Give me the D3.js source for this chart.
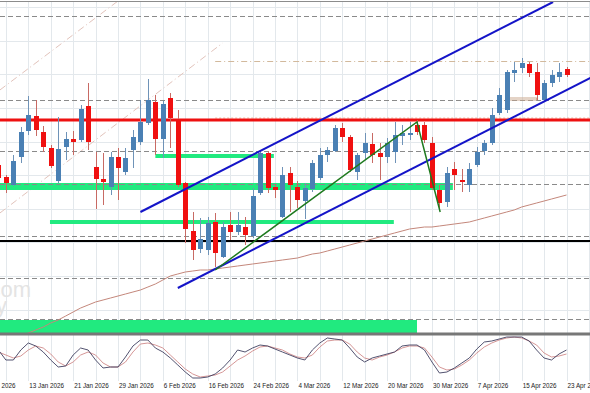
<!DOCTYPE html>
<html>
<head>
<meta charset="utf-8">
<script src="https://cdn.jsdelivr.net/npm/d3@7"></script>
<style>
html, body { margin: 0; padding: 0; background: #fff; }
svg { display: block; }
.axis text { font-family: "Liberation Sans", Arial, sans-serif; font-size: 6.3px; fill: #222; }
</style>
</head>
<body>
<div id="chart"></div>
<script>
// daily candles, first bar = 7 Jan 2026 (index -4), last bar = 23 Apr 2026 (index 72)
var firstIndex = -4;

var opens = [1.1635, 1.1623, 1.1615, 1.1643, 1.1669, 1.1684, 1.1668, 1.1652, 1.1619, 1.1653,
    1.1661, 1.1660, 1.1694, 1.1633, 1.1621, 1.1613, 1.1643, 1.1628, 1.1650, 1.1658,
    1.1677, 1.1698, 1.1661, 1.1702, 1.1681, 1.1617, 1.1569, 1.1551, 1.1550, 1.1578,
    1.1543, 1.1575, 1.1568, 1.1573, 1.1564, 1.1607, 1.1647, 1.1613, 1.1583, 1.1627,
    1.1613, 1.1599, 1.1611, 1.1622, 1.1645, 1.1649, 1.1672, 1.1663, 1.1628, 1.1647,
    1.1656, 1.1647, 1.1643, 1.1648, 1.1664, 1.1665, 1.1675, 1.1675, 1.1657, 1.1610,
    1.1598, 1.1631, 1.1620, 1.1615, 1.1635, 1.1649, 1.1657, 1.1687, 1.1690, 1.1727,
    1.1732, 1.1736, 1.1728, 1.1700, 1.1717, 1.1723, 1.1731];

var highs = [1.1640, 1.1625, 1.1645, 1.1673, 1.1704, 1.1700, 1.1674, 1.1655, 1.1683, 1.1668,
    1.1669, 1.1695, 1.1717, 1.1648, 1.1647, 1.1648, 1.1652, 1.1652, 1.1670, 1.1700,
    1.1721, 1.1705, 1.1699, 1.1707, 1.1690, 1.1618, 1.1588, 1.1582, 1.1583, 1.1587,
    1.1578, 1.1588, 1.1588, 1.1583, 1.1612, 1.1649, 1.1649, 1.1616, 1.1633, 1.1633,
    1.1619, 1.1617, 1.1640, 1.1652, 1.1653, 1.1675, 1.1677, 1.1665, 1.1647, 1.1667,
    1.1667, 1.1657, 1.1662, 1.1678, 1.1675, 1.1678, 1.1680, 1.1678, 1.1663, 1.1615,
    1.1633, 1.1638, 1.1631, 1.1637, 1.1653, 1.1660, 1.1692, 1.1712, 1.1730, 1.1738,
    1.1742, 1.1738, 1.1737, 1.1720, 1.1730, 1.1737, 1.1733];

var lows = [1.1620, 1.1607, 1.1614, 1.1637, 1.1665, 1.1664, 1.1648, 1.1632, 1.1617, 1.1640,
    1.1645, 1.1658, 1.1650, 1.1591, 1.1595, 1.1605, 1.1600, 1.1625, 1.1632, 1.1655,
    1.1675, 1.1645, 1.1642, 1.1652, 1.1613, 1.1557, 1.1540, 1.1547, 1.1545, 1.1533,
    1.1542, 1.1560, 1.1565, 1.1555, 1.1562, 1.1605, 1.1607, 1.1602, 1.1582, 1.1588,
    1.1592, 1.1581, 1.1608, 1.1620, 1.1638, 1.1648, 1.1658, 1.1628, 1.1620, 1.1640,
    1.1637, 1.1620, 1.1637, 1.1637, 1.1655, 1.1660, 1.1665, 1.1657, 1.1610, 1.1592,
    1.1593, 1.1610, 1.1608, 1.1608, 1.1633, 1.1645, 1.1655, 1.1685, 1.1687, 1.1718,
    1.1727, 1.1723, 1.1700, 1.1698, 1.1713, 1.1718, 1.1723];

var closes = [1.1622, 1.1617, 1.1639, 1.1668, 1.1685, 1.1670, 1.1653, 1.1634, 1.1651, 1.1661,
    1.1658, 1.1691, 1.1658, 1.1621, 1.1618, 1.1643, 1.1632, 1.1642, 1.1663, 1.1678,
    1.1700, 1.1661, 1.1696, 1.1682, 1.1615, 1.1571, 1.1550, 1.1561, 1.1577, 1.1547,
    1.1573, 1.1568, 1.1575, 1.1565, 1.1604, 1.1647, 1.1612, 1.1610, 1.1625, 1.1615,
    1.1600, 1.1612, 1.1637, 1.1645, 1.1650, 1.1672, 1.1663, 1.1630, 1.1645, 1.1657,
    1.1645, 1.1643, 1.1657, 1.1665, 1.1667, 1.1667, 1.1668, 1.1660, 1.1612, 1.1597,
    1.1627, 1.1625, 1.1618, 1.1631, 1.1648, 1.1657, 1.1685, 1.1705, 1.1728, 1.1730,
    1.1737, 1.1727, 1.1705, 1.1717, 1.1725, 1.1728, 1.1725];

// slow moving average
var movingAvg = [1.1455, 1.1458, 1.1461, 1.1464,
    1.1467, 1.1470, 1.1473, 1.1477, 1.1480, 1.1484, 1.1488, 1.1492, 1.1495, 1.1498,
    1.1500, 1.1502, 1.1504, 1.1506, 1.1508, 1.1510, 1.1513, 1.1516, 1.1520, 1.1524,
    1.1526, 1.1528, 1.1529, 1.1530, 1.1530, 1.1531, 1.1532, 1.1533, 1.1534, 1.1535,
    1.1536, 1.1537, 1.1538, 1.1539, 1.1540, 1.1541, 1.1542, 1.1544, 1.1546, 1.1547,
    1.1549, 1.1551, 1.1553, 1.1555, 1.1557, 1.1559, 1.1561, 1.1563, 1.1565, 1.1567,
    1.1569, 1.1571, 1.1572, 1.1573, 1.1573, 1.1574, 1.1575, 1.1576, 1.1577, 1.1578,
    1.1580, 1.1582, 1.1584, 1.1586, 1.1588, 1.1590, 1.1593, 1.1595, 1.1597, 1.1599,
    1.1601, 1.1603, 1.1605];

// stochastic %K and %D
var stochK = [60, 40, 40, 60, 74, 68, 56, 40, 26, 28, 50, 64, 60, 40, 24, 26, 26, 46, 68, 80,
    80, 64, 56, 44, 30, 16, 4, 4, 6, 12, 24, 40, 60, 56, 64, 70, 68, 62, 56, 50,
    44, 40, 60, 74, 84, 82, 80, 64, 46, 36, 44, 48, 52, 56, 68, 70, 70, 60, 36, 14,
    16, 24, 34, 44, 62, 76, 78, 82, 86, 86, 86, 78, 60, 44, 40, 52, 60];
var stochD = [56, 50, 44, 48, 60, 68, 64, 52, 36, 28, 36, 50, 56, 50, 34, 26, 26, 36, 56, 72,
    74, 70, 64, 50, 36, 22, 12, 6, 8, 10, 16, 28, 40, 48, 58, 66, 68, 64, 60, 52,
    46, 44, 50, 66, 78, 80, 80, 72, 56, 44, 40, 46, 50, 56, 64, 68, 68, 64, 46, 26,
    20, 22, 30, 40, 54, 66, 74, 80, 84, 86, 84, 78, 70, 54, 46, 48, 52];

var xTickIndex = [-6, 0, 6, 12, 18, 24, 30, 36, 42, 48, 54, 60, 66, 72];
var xTickLabels = ["5 Jan 2026", "13 Jan 2026", "21 Jan 2026", "29 Jan 2026", "6 Feb 2026",
    "16 Feb 2026", "24 Feb 2026", "4 Mar 2026", "12 Mar 2026", "20 Mar 2026",
    "30 Mar 2026", "7 Apr 2026", "15 Apr 2026", "23 Apr 2026"];

var gridPrices = [1.1793, 1.1759, 1.1726, 1.1692, 1.1658, 1.1625, 1.1591, 1.1558, 1.1524, 1.1490];

// drawn objects: [index, price] points
var dashedLevels = [1.1784, 1.1700, 1.1649, 1.1616, 1.1564, 1.1522, 1.1481];
var redLevel = 1.1680;
var blackLevel = 1.1559;
var dashDotLevel = [25.0, 1.1739];
var dottedLevel = [25.0, 1.1682];
var zones = [[17.0, 32.85, 1.1646, 1.1642], [-4.5, 56.8, 1.1617, 1.1610],
    [2.9, 48.9, 1.1580, 1.1576], [-4.5, 52.0, 1.1480, 1.1467]];
var tanBox = [64.2, 68.0, 1.1702, 1.1700];
var blueChannel = [[[15.0, 1.1588], [70.2, 1.1798]], [[20.0, 1.1512], [75.2, 1.1722]]];
var greenTrend = [[25.0, 1.1530], [52.0, 1.1678], [55.1, 1.1588]];
var diagChannel = [[[-3.8, 1.1710], [12.0, 1.1799]], [[-3.8, 1.1587], [26.0, 1.1757]]];

var width = 590, height = 393;
var mainBottom = 333;

var bars = opens.map(function(o, i) {
    return { i: i + firstIndex, o: o, h: highs[i], l: lows[i], c: closes[i] };
});

var x = d3.scaleLinear().domain([0, 72]).range([28.3, 566.5]);
var y = d3.scaleLinear().domain([1.1800, 1.1467]).range([0, mainBottom]);
var ys = d3.scaleLinear().domain([0, 100]).range([380, 330]);

var svg = d3.select("#chart").append("svg")
    .attr("width", width)
    .attr("height", height);

svg.append("rect").attr("width", width).attr("height", height).attr("fill", "#fff");

var defs = svg.append("defs");
defs.append("clipPath").attr("id", "mainClip")
    .append("rect").attr("x", 0).attr("y", 2).attr("width", width).attr("height", mainBottom - 2);
defs.append("clipPath").attr("id", "stochClip")
    .append("rect").attr("x", 0).attr("y", 335).attr("width", width).attr("height", 46);

// grid
var grid = svg.append("g").attr("shape-rendering", "crispEdges");
grid.selectAll("line.v")
    .data(d3.range(-6, 78, 3))
    .enter().append("line")
    .attr("x1", function(d) { return Math.round(x(d)) + 0.5; })
    .attr("x2", function(d) { return Math.round(x(d)) + 0.5; })
    .attr("y1", 2).attr("y2", 381)
    .attr("stroke", "#e3e8ec");
grid.selectAll("line.h")
    .data(gridPrices)
    .enter().append("line")
    .attr("x1", 0).attr("x2", width)
    .attr("y1", function(d) { return Math.round(y(d)) + 0.5; })
    .attr("y2", function(d) { return Math.round(y(d)) + 0.5; })
    .attr("stroke", "#e3e8ec");

var main = svg.append("g").attr("clip-path", "url(#mainClip)");

// diagonal dash-dot channel
main.selectAll("line.diag")
    .data(diagChannel)
    .enter().append("line")
    .attr("x1", function(d) { return x(d[0][0]); })
    .attr("y1", function(d) { return y(d[0][1]); })
    .attr("x2", function(d) { return x(d[1][0]); })
    .attr("y2", function(d) { return y(d[1][1]); })
    .attr("stroke", "#e2c3bb")
    .attr("stroke-width", 1)
    .attr("stroke-dasharray", "7,3,1,3");

// zones
main.selectAll("rect.zone")
    .data(zones)
    .enter().append("rect")
    .attr("x", function(d) { return x(d[0]); })
    .attr("width", function(d) { return x(d[1]) - x(d[0]); })
    .attr("y", function(d) { return y(d[2]); })
    .attr("height", function(d) { return y(d[3]) - y(d[2]); })
    .attr("fill", "#21ea7f");

// levels
var levels = main.append("g");
levels.selectAll("line.dash")
    .data(dashedLevels)
    .enter().append("line")
    .attr("x1", 0).attr("x2", width)
    .attr("y1", function(d) { return Math.round(y(d)) + 0.5; })
    .attr("y2", function(d) { return Math.round(y(d)) + 0.5; })
    .attr("stroke", "#8a8a8a")
    .attr("stroke-dasharray", "5,3");

levels.append("line")
    .attr("x1", x(dashDotLevel[0])).attr("x2", width)
    .attr("y1", Math.round(y(dashDotLevel[1])) + 0.5)
    .attr("y2", Math.round(y(dashDotLevel[1])) + 0.5)
    .attr("stroke", "#d2b99c")
    .attr("stroke-dasharray", "6,3,1,3");

levels.append("line")
    .attr("x1", x(dottedLevel[0])).attr("x2", width)
    .attr("y1", y(dottedLevel[1])).attr("y2", y(dottedLevel[1]))
    .attr("stroke", "#f4b9a0")
    .attr("stroke-dasharray", "2,2");

levels.append("line")
    .attr("x1", 0).attr("x2", width)
    .attr("y1", y(redLevel)).attr("y2", y(redLevel))
    .attr("stroke", "#ee1010")
    .attr("stroke-width", 3);

levels.append("line")
    .attr("x1", 0).attr("x2", width)
    .attr("y1", y(blackLevel)).attr("y2", y(blackLevel))
    .attr("stroke", "#000")
    .attr("stroke-width", 2);

levels.append("rect")
    .attr("x", x(tanBox[0]))
    .attr("width", x(tanBox[1]) - x(tanBox[0]))
    .attr("y", y(tanBox[2]))
    .attr("height", y(tanBox[3]) - y(tanBox[2]))
    .attr("fill", "none")
    .attr("stroke", "#c9a88e")
    .attr("stroke-width", 1);

// watermark, cut off at the left edge
var wm = main.append("text")
    .attr("font-family", "Liberation Sans, Arial, sans-serif")
    .attr("font-size", 22)
    .attr("fill", "#e4e4e4");
wm.append("tspan").attr("x", 31).attr("y", 297).attr("text-anchor", "end").text("com");
wm.append("tspan").attr("x", 7).attr("y", 313).attr("text-anchor", "end").text("y");

// moving average
var maLine = d3.line()
    .x(function(d, i) { return x(i + firstIndex); })
    .y(function(d) { return y(d); });
main.append("path")
    .datum(movingAvg)
    .attr("d", maLine)
    .attr("fill", "none")
    .attr("stroke", "#c4877b")
    .attr("stroke-width", 1);

// candles
var candle = main.selectAll("g.candle")
    .data(bars)
    .enter().append("g");
candle.append("line")
    .attr("x1", function(d) { return Math.round(x(d.i)) + 0.5; })
    .attr("x2", function(d) { return Math.round(x(d.i)) + 0.5; })
    .attr("y1", function(d) { return y(d.h); })
    .attr("y2", function(d) { return y(d.l); })
    .attr("stroke", function(d) { return d.c >= d.o ? "#6f93b8" : "#c86a64"; })
    .attr("stroke-width", 1);
candle.append("rect")
    .attr("x", function(d) { return Math.round(x(d.i)) - 2; })
    .attr("width", 5)
    .attr("y", function(d) { return y(Math.max(d.o, d.c)); })
    .attr("height", function(d) { return Math.max(1.5, Math.abs(y(d.o) - y(d.c))); })
    .attr("fill", function(d) { return d.c >= d.o ? "#4a80b4" : "#f01010"; });

// trend lines
main.selectAll("line.blue")
    .data(blueChannel)
    .enter().append("line")
    .attr("x1", function(d) { return x(d[0][0]); })
    .attr("y1", function(d) { return y(d[0][1]); })
    .attr("x2", function(d) { return x(d[1][0]); })
    .attr("y2", function(d) { return y(d[1][1]); })
    .attr("stroke", "#1414c8")
    .attr("stroke-width", 2);

main.append("path")
    .datum(greenTrend)
    .attr("d", d3.line().x(function(d) { return x(d[0]); }).y(function(d) { return y(d[1]); }))
    .attr("fill", "none")
    .attr("stroke", "#1f7a1f")
    .attr("stroke-width", 1.5);

// frame lines
svg.append("line").attr("x1", 0).attr("x2", width).attr("y1", 1.5).attr("y2", 1.5)
    .attr("stroke", "#8c8c8c").attr("stroke-width", 1);
svg.append("line").attr("x1", 0).attr("x2", width).attr("y1", 334).attr("y2", 334)
    .attr("stroke", "#777").attr("stroke-width", 3);

// stochastic
var stoch = svg.append("g").attr("clip-path", "url(#stochClip)");
var stochLine = d3.line()
    .x(function(d, i) { return x(i + firstIndex); })
    .y(function(d) { return ys(d); });
stoch.append("path")
    .datum(stochD)
    .attr("d", stochLine)
    .attr("fill", "none")
    .attr("stroke", "#d08a8a")
    .attr("stroke-width", 0.9);
stoch.append("path")
    .datum(stochK)
    .attr("d", stochLine)
    .attr("fill", "none")
    .attr("stroke", "#3f4060")
    .attr("stroke-width", 0.9);

// date axis
var xAxis = d3.axisBottom(x)
    .tickValues(xTickIndex)
    .tickFormat(function(d, i) { return xTickLabels[i]; })
    .tickSize(0)
    .tickPadding(0);
var ax = svg.append("g")
    .attr("class", "axis")
    .attr("transform", "translate(0,383)")
    .call(xAxis);
ax.select(".domain").remove();
ax.selectAll("text")
    .attr("text-anchor", "start")
    .attr("dx", 0.5)
    .attr("dy", "0.75em");
</script>
</body>
</html>
